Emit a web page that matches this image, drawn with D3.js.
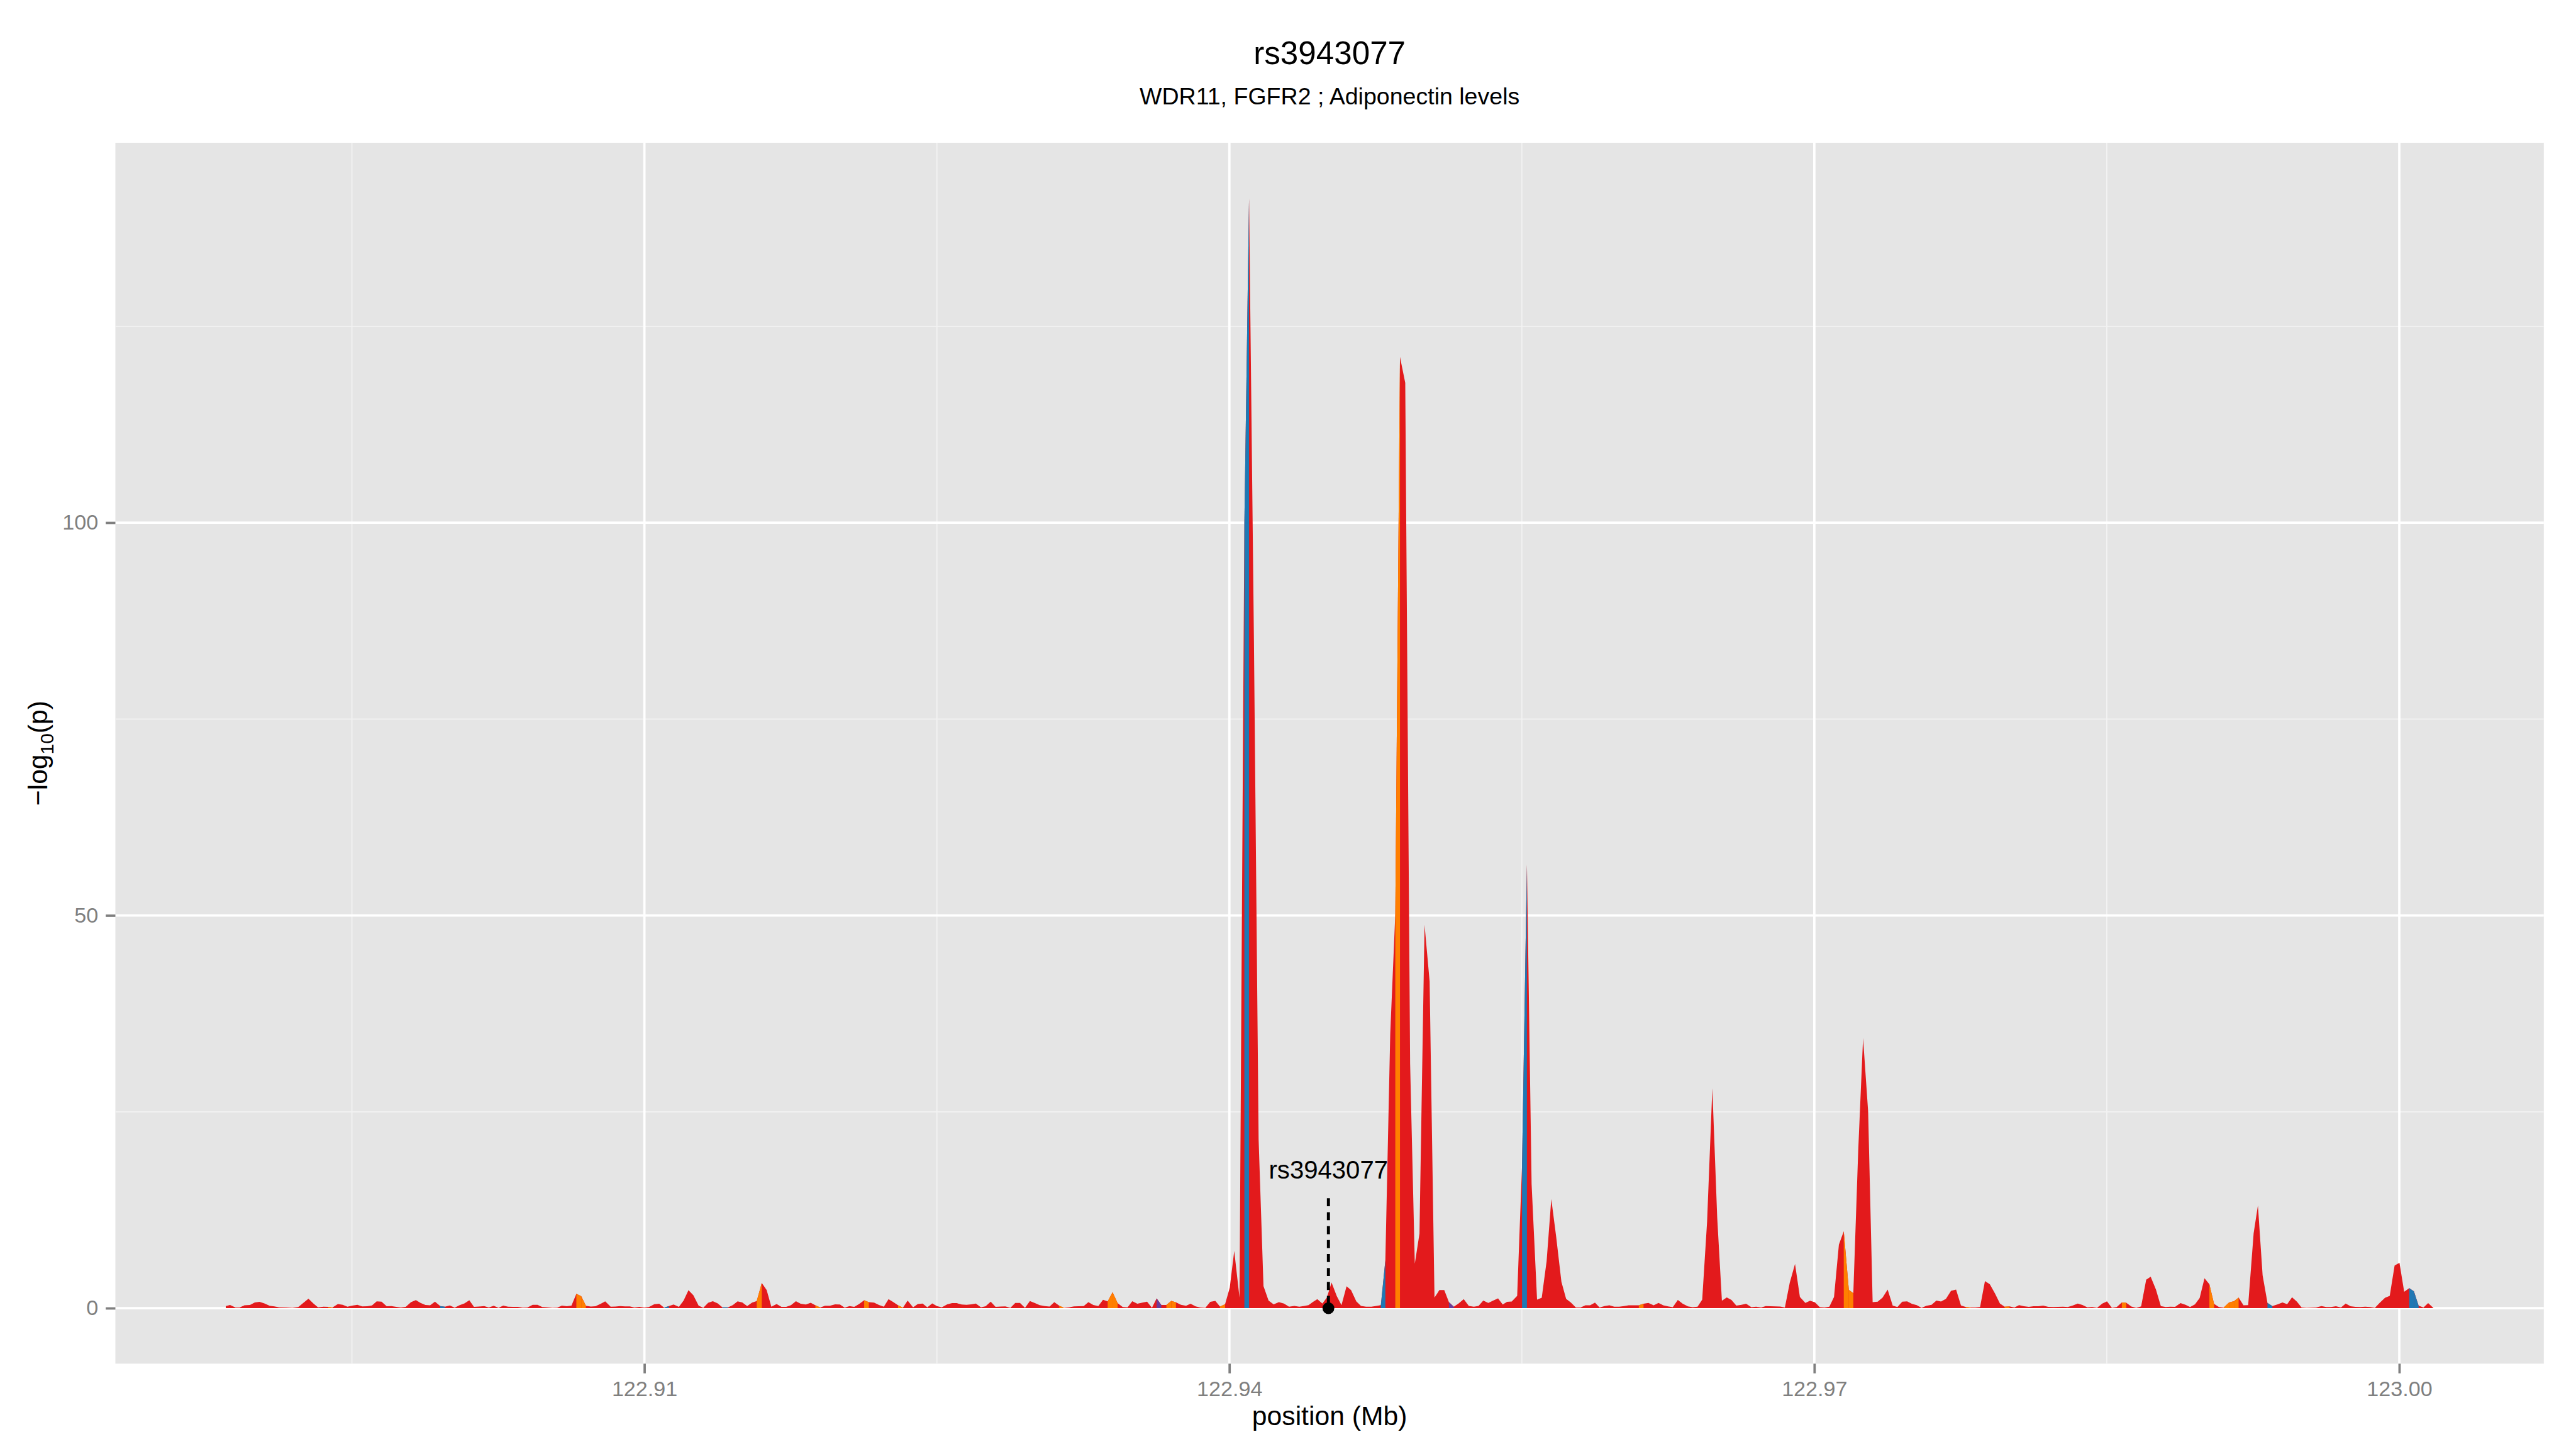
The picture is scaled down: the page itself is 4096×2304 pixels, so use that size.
<!DOCTYPE html>
<html>
<head>
<meta charset="utf-8">
<script src="https://cdn.jsdelivr.net/npm/d3@7/dist/d3.min.js"></script>
<style>
  body { margin: 0; background: #fff; }
  svg { display: block; font-family: "Liberation Sans", Arial, Helvetica, sans-serif; }
</style>
</head>
<body>
<div id="chart"></div>
<script>
// --- texts ---
const title = "rs3943077";
const subtitle = "WDR11, FGFR2 ; Adiponectin levels";
const xLabel = "position (Mb)";

// --- axis breaks ---
const xTicks = [122.91, 122.94, 122.97, 123.00];
const xMinor = [122.895, 122.925, 122.955, 122.985];
const yTicks = [0, 50, 100];
const yMinor = [25, 75, 125];

// --- lead snp annotation ---
const leadName = "rs3943077";
const leadPos = 122.94508;
const leadLabelAt = 16.5;   // -log10(p) of label baseline
const leadLineTo = 14;

// --- snp positions (Mb) ---
const position = [
  122.88853, 122.88875, 122.88903, 122.88924, 122.88949, 122.88977, 122.89002, 122.89026, 122.89051, 122.89078,
  122.89102, 122.89127, 122.89164, 122.89195, 122.89225, 122.89277, 122.89302, 122.89326, 122.89354, 122.89379,
  122.89400, 122.89428, 122.89453, 122.89477, 122.89502, 122.89528, 122.89553, 122.89578, 122.89603, 122.89627,
  122.89652, 122.89678, 122.89702, 122.89727, 122.89751, 122.89776, 122.89803, 122.89828, 122.89852, 122.89877,
  122.89901, 122.89926, 122.89953, 122.89977, 122.90002, 122.90027, 122.90051, 122.90077, 122.90102, 122.90126,
  122.90151, 122.90178, 122.90202, 122.90227, 122.90252, 122.90276, 122.90301, 122.90327, 122.90351, 122.90376,
  122.90400, 122.90427, 122.90452, 122.90476, 122.90501, 122.90528, 122.90553, 122.90577, 122.90602, 122.90626,
  122.90651, 122.90676, 122.90700, 122.90725, 122.90749, 122.90775, 122.90799, 122.90827, 122.90851, 122.90876,
  122.90900, 122.90925, 122.90949, 122.90974, 122.90999, 122.91023, 122.91051, 122.91076, 122.91101, 122.91125,
  122.91150, 122.91177, 122.91201, 122.91226, 122.91251, 122.91278, 122.91302, 122.91327, 122.91351, 122.91376,
  122.91400, 122.91429, 122.91453, 122.91478, 122.91502, 122.91527, 122.91552, 122.91576, 122.91602, 122.91627,
  122.91651, 122.91678, 122.91703, 122.91727, 122.91752, 122.91777, 122.91801, 122.91828, 122.91853, 122.91877,
  122.91902, 122.91926, 122.91951, 122.91978, 122.92003, 122.92027, 122.92052, 122.92076, 122.92101, 122.92127,
  122.92151, 122.92178, 122.92203, 122.92228, 122.92252, 122.92277, 122.92301, 122.92326, 122.92350, 122.92378,
  122.92402, 122.92427, 122.92451, 122.92476, 122.92500, 122.92525, 122.92553, 122.92578, 122.92602, 122.92627,
  122.92652, 122.92676, 122.92700, 122.92726, 122.92750, 122.92776, 122.92801, 122.92827, 122.92851, 122.92877,
  122.92902, 122.92926, 122.92952, 122.92977, 122.93003, 122.93027, 122.93053, 122.93078, 122.93102, 122.93128,
  122.93152, 122.93177, 122.93203, 122.93227, 122.93253, 122.93277, 122.93302, 122.93328, 122.93352, 122.93376,
  122.93401, 122.93427, 122.93453, 122.93478, 122.93502, 122.93528, 122.93554, 122.93578, 122.93603, 122.93627,
  122.93651, 122.93677, 122.93702, 122.93726, 122.93752, 122.93778, 122.93801, 122.93827, 122.93851, 122.93877,
  122.93902, 122.93928, 122.93952, 122.93978, 122.94002, 122.94025, 122.94052, 122.94077, 122.94101, 122.94126,
  122.94150, 122.94175, 122.94201, 122.94227, 122.94254, 122.94280, 122.94306, 122.94333, 122.94359, 122.94385,
  122.94406, 122.94427, 122.94451, 122.94477, 122.94500, 122.94524, 122.94551, 122.94575, 122.94601, 122.94624,
  122.94651, 122.94675, 122.94701, 122.94728, 122.94754, 122.94777, 122.94800, 122.94825, 122.94851, 122.94875,
  122.94902, 122.94927, 122.94951, 122.94975, 122.95001, 122.95027, 122.95052, 122.95077, 122.95102, 122.95126,
  122.95151, 122.95175, 122.95202, 122.95228, 122.95254, 122.95278, 122.95302, 122.95328, 122.95353, 122.95378,
  122.95402, 122.95424, 122.95448, 122.95476, 122.95501, 122.95526, 122.95550, 122.95578, 122.95602, 122.95627,
  122.95651, 122.95676, 122.95703, 122.95727, 122.95752, 122.95777, 122.95801, 122.95826, 122.95850, 122.95875,
  122.95899, 122.95924, 122.95949, 122.95974, 122.95999, 122.96024, 122.96048, 122.96075, 122.96100, 122.96124,
  122.96149, 122.96176, 122.96201, 122.96225, 122.96250, 122.96274, 122.96300, 122.96325, 122.96352, 122.96376,
  122.96401, 122.96425, 122.96450, 122.96477, 122.96502, 122.96526, 122.96551, 122.96575, 122.96600, 122.96626,
  122.96650, 122.96677, 122.96702, 122.96727, 122.96751, 122.96776, 122.96800, 122.96825, 122.96849, 122.96874,
  122.96901, 122.96926, 122.96954, 122.96978, 122.97003, 122.97028, 122.97052, 122.97077, 122.97101, 122.97126,
  122.97151, 122.97177, 122.97200, 122.97225, 122.97250, 122.97276, 122.97299, 122.97325, 122.97350, 122.97376,
  122.97402, 122.97426, 122.97451, 122.97476, 122.97501, 122.97525, 122.97550, 122.97575, 122.97601, 122.97626,
  122.97650, 122.97675, 122.97701, 122.97727, 122.97752, 122.97777, 122.97801, 122.97826, 122.97850, 122.97875,
  122.97900, 122.97927, 122.97952, 122.97976, 122.98001, 122.98026, 122.98050, 122.98075, 122.98100, 122.98124,
  122.98149, 122.98174, 122.98200, 122.98226, 122.98250, 122.98275, 122.98300, 122.98324, 122.98351, 122.98375,
  122.98400, 122.98425, 122.98450, 122.98477, 122.98501, 122.98526, 122.98551, 122.98577, 122.98600, 122.98626,
  122.98651, 122.98676, 122.98702, 122.98725, 122.98752, 122.98777, 122.98802, 122.98826, 122.98850, 122.98878,
  122.98904, 122.98927, 122.98952, 122.98976, 122.99001, 122.99026, 122.99050, 122.99075, 122.99099, 122.99127,
  122.99152, 122.99176, 122.99201, 122.99225, 122.99253, 122.99275, 122.99299, 122.99324, 122.99349, 122.99376,
  122.99401, 122.99425, 122.99450, 122.99475, 122.99499, 122.99524, 122.99549, 122.99573, 122.99601, 122.99625,
  122.99650, 122.99675, 122.99701, 122.99725, 122.99750, 122.99775, 122.99801, 122.99825, 122.99850, 122.99875,
  122.99899, 122.99927, 122.99951, 122.99976, 123.00001, 123.00025, 123.00051, 123.00075, 123.00099, 123.00124,
  123.00148, 123.00175
];

// --- -log10(p) ---
const logp = [
  0.27, 0.41, 0.09, 0.09, 0.36, 0.41, 0.73, 0.80, 0.61, 0.30,
  0.23, 0.11, 0.09, 0.05, 0.14, 1.20, 0.60, 0.10, 0.18, 0.16,
  0.09, 0.52, 0.43, 0.18, 0.32, 0.43, 0.23, 0.25, 0.34, 0.87,
  0.82, 0.25, 0.27, 0.16, 0.09, 0.16, 0.77, 1.02, 0.66, 0.41,
  0.36, 0.82, 0.27, 0.18, 0.34, 0.07, 0.36, 0.61, 1.00, 0.16,
  0.20, 0.27, 0.09, 0.30, 0.05, 0.32, 0.18, 0.16, 0.16, 0.07,
  0.09, 0.43, 0.43, 0.14, 0.11, 0.05, 0.07, 0.32, 0.25, 0.32,
  1.82, 1.53, 0.30, 0.20, 0.25, 0.55, 0.87, 0.18, 0.20, 0.27,
  0.23, 0.23, 0.09, 0.16, 0.07, 0.14, 0.50, 0.57, 0.07, 0.27,
  0.46, 0.16, 0.96, 2.28, 1.64, 0.32, 0.05, 0.68, 0.89, 0.61,
  0.11, 0.11, 0.39, 0.87, 0.73, 0.27, 0.71, 0.91, 3.21, 2.30,
  0.18, 0.52, 0.16, 0.16, 0.39, 0.89, 0.57, 0.46, 0.68, 0.36,
  0.09, 0.30, 0.30, 0.48, 0.46, 0.07, 0.27, 0.16, 0.52, 1.00,
  0.77, 0.71, 0.41, 0.18, 1.14, 0.77, 0.36, 0.07, 0.96, 0.11,
  0.52, 0.59, 0.11, 0.61, 0.27, 0.11, 0.48, 0.64, 0.64, 0.46,
  0.43, 0.48, 0.59, 0.11, 0.25, 0.82, 0.16, 0.20, 0.23, 0.05,
  0.66, 0.66, 0.05, 0.91, 0.64, 0.39, 0.27, 0.20, 0.77, 0.30,
  0.05, 0.11, 0.23, 0.25, 0.27, 0.77, 0.41, 0.27, 1.07, 0.87,
  2.03, 0.64, 0.14, 0.11, 0.89, 0.57, 0.71, 0.82, 0.05, 1.25,
  0.41, 0.41, 0.93, 0.75, 0.43, 0.30, 0.57, 0.23, 0.09, 0.05,
  0.80, 0.93, 0.20, 0.50, 2.60, 7.30, 1.34, 100.0, 141.3, 85.0,
  21.5, 2.80, 0.96, 0.48, 0.77, 0.58, 0.19, 0.29, 0.19, 0.29,
  0.38, 0.77, 1.15, 0.58, 1.34, 3.26, 1.53, 0.38, 2.78, 2.30,
  0.86, 0.29, 0.19, 0.19, 0.29, 0.38, 6.10, 34.9, 50.2, 121.1,
  117.8, 31.1, 5.65, 9.50, 48.8, 41.6, 1.34, 2.30, 2.30, 0.77,
  0.19, 0.58, 1.15, 0.29, 0.19, 0.29, 0.96, 0.67, 0.96, 1.25,
  0.47, 0.80, 0.85, 1.57, 18.2, 56.5, 15.8, 1.09, 1.33, 5.98,
  13.9, 9.10, 3.34, 1.18, 0.70, 0.08, 0.08, 0.37, 0.37, 0.70,
  0.08, 0.27, 0.37, 0.18, 0.18, 0.27, 0.37, 0.37, 0.37, 0.56,
  0.66, 0.37, 0.66, 0.37, 0.23, 0.13, 1.04, 0.56, 0.23, 0.13,
  0.18, 1.09, 11.0, 28.0, 11.5, 0.94, 1.37, 1.04, 0.32, 0.42,
  0.56, 0.13, 0.18, 0.08, 0.27, 0.25, 0.23, 0.20, 0.08, 3.24,
  5.64, 1.42, 0.66, 0.94, 0.75, 0.13, 0.08, 0.18, 1.42, 8.10,
  9.80, 2.32, 1.91, 20.0, 34.4, 25.0, 0.77, 0.82, 1.34, 2.37,
  0.32, 0.14, 0.82, 0.87, 0.55, 0.39, 0.05, 0.30, 0.43, 0.96,
  0.84, 1.18, 2.21, 2.37, 0.34, 0.14, 0.09, 0.09, 0.14, 3.44,
  3.05, 1.84, 0.59, 0.18, 0.23, 0.09, 0.39, 0.25, 0.16, 0.25,
  0.25, 0.32, 0.16, 0.14, 0.16, 0.18, 0.14, 0.32, 0.59, 0.41,
  0.11, 0.14, 0.05, 0.59, 0.87, 0.05, 0.14, 0.73, 0.68, 0.20,
  0.05, 0.23, 3.62, 4.00, 2.37, 0.27, 0.14, 0.18, 0.16, 0.64,
  0.43, 0.14, 0.48, 1.28, 3.80, 3.05, 0.55, 0.14, 0.07, 0.73,
  0.89, 1.34, 0.36, 0.39, 9.54, 13.07, 4.19, 0.66, 0.27, 0.48,
  0.73, 0.50, 1.39, 0.82, 0.09, 0.05, 0.07, 0.09, 0.27, 0.14,
  0.14, 0.25, 0.09, 0.59, 0.25, 0.16, 0.14, 0.18, 0.14, 0.05,
  0.66, 1.32, 1.57, 5.44, 5.78, 2.09, 2.55, 2.14, 0.32, 0.09,
  0.64, 0.02
];

// --- LD groups: snps not in these lists are in the low (red) group ---
const ldOrange = [122.89400, 122.90676, 122.90700, 122.91602, 122.91902, 122.92151, 122.92326,
  122.93152, 122.93401, 122.93427, 122.93702, 122.93726, 122.93978, 122.94875, 122.96124,
  122.97177, 122.97200, 122.97801, 122.98001, 122.98600, 122.99050, 122.99127, 122.99152, 122.99176];
const ldBlue = [122.89977, 122.91125, 122.91429, 122.94101, 122.94800, 122.95526, 122.99349,
  123.00075, 123.00099];
const ldPurple = [122.93651, 122.95151];

const ldColour = { low: "#E31A1C", orange: "#FF7F00", blue: "#1F78B4", purple: "#6A3D9A" };

// --- sizing (reference units, scaled by viewBox) ---
const W = 4800, H = 2700;
const panel = { left: 215, right: 4740, top: 266, bottom: 2541 };

if (position.length !== logp.length) console.error("length mismatch", position.length, logp.length);

function ldOf(p) {
  if (ldOrange.includes(p)) return "orange";
  if (ldBlue.includes(p)) return "blue";
  if (ldPurple.includes(p)) return "purple";
  return "low";
}

const snps = position.map((p, i) => ({ pos: p, logp: logp[i], ld: ldOf(p) }));

const svg = d3.select("#chart").append("svg")
  .attr("width", 4096)
  .attr("height", 2304)
  .attr("viewBox", `0 0 ${W} ${H}`);

svg.append("rect").attr("width", W).attr("height", H).attr("fill", "#fff");

// scales with ggplot style 5% expansion
const xExt = d3.extent(position);
const xPad = (xExt[1] - xExt[0]) * 0.05;
const x = d3.scaleLinear()
  .domain([xExt[0] - xPad, xExt[1] + xPad])
  .range([panel.left, panel.right]);

const yMax = d3.max(logp);
const yPad = yMax * 0.05;
const y = d3.scaleLinear()
  .domain([-yPad, yMax + yPad])
  .range([panel.bottom, panel.top]);

// panel background
svg.append("rect")
  .attr("x", panel.left).attr("y", panel.top)
  .attr("width", panel.right - panel.left)
  .attr("height", panel.bottom - panel.top)
  .attr("fill", "#E5E5E5");

// grid
const grid = svg.append("g").attr("class", "grid");
grid.selectAll(".xminor").data(xMinor).enter().append("line")
  .attr("x1", d => x(d)).attr("x2", d => x(d))
  .attr("y1", panel.top).attr("y2", panel.bottom)
  .attr("stroke", "#F2F2F2").attr("stroke-width", 2.2);
grid.selectAll(".yminor").data(yMinor).enter().append("line")
  .attr("y1", d => y(d)).attr("y2", d => y(d))
  .attr("x1", panel.left).attr("x2", panel.right)
  .attr("stroke", "#F2F2F2").attr("stroke-width", 2.2);
grid.selectAll(".xmajor").data(xTicks).enter().append("line")
  .attr("x1", d => x(d)).attr("x2", d => x(d))
  .attr("y1", panel.top).attr("y2", panel.bottom)
  .attr("stroke", "#fff").attr("stroke-width", 4.4);
grid.selectAll(".ymajor").data(yTicks).enter().append("line")
  .attr("y1", d => y(d)).attr("y2", d => y(d))
  .attr("x1", panel.left).attr("x2", panel.right)
  .attr("stroke", "#fff").attr("stroke-width", 4.4);

// area: whole track in the low colour, then the coloured segments on top
const area = d3.area()
  .x(d => x(d.pos))
  .y0(y(0))
  .y1(d => y(d.logp));

const plot = svg.append("g").attr("class", "plot");
plot.append("path")
  .datum(snps)
  .attr("d", area)
  .attr("fill", ldColour.low);

const segs = [];
for (let i = 1; i < snps.length; i++) {
  if (snps[i].ld !== "low") segs.push({ ld: snps[i].ld, pts: [snps[i - 1], snps[i]] });
}
plot.selectAll(".seg").data(segs).enter().append("path")
  .attr("class", "seg")
  .attr("d", d => area(d.pts))
  .attr("fill", d => ldColour[d.ld]);

// lead snp annotation
const ann = svg.append("g").attr("class", "lead");
ann.append("line")
  .attr("x1", x(leadPos)).attr("x2", x(leadPos))
  .attr("y1", y(leadLineTo)).attr("y2", y(0))
  .attr("stroke", "#000").attr("stroke-width", 5.7)
  .attr("stroke-dasharray", "15,11");
ann.append("circle")
  .attr("cx", x(leadPos)).attr("cy", y(0)).attr("r", 11)
  .attr("fill", "#000");
ann.append("text")
  .attr("x", x(leadPos)).attr("y", y(leadLabelAt))
  .attr("text-anchor", "middle")
  .attr("font-size", 47)
  .attr("fill", "#000")
  .text(leadName);

// axes
const xAxis = d3.axisBottom(x)
  .tickValues(xTicks)
  .tickFormat(d3.format(".2f"))
  .tickSize(18)
  .tickPadding(14);
const yAxis = d3.axisLeft(y)
  .tickValues(yTicks)
  .tickSize(18)
  .tickPadding(14);

const gx = svg.append("g")
  .attr("class", "axis axis--x")
  .attr("transform", `translate(0,${panel.bottom})`)
  .call(xAxis);
const gy = svg.append("g")
  .attr("class", "axis axis--y")
  .attr("transform", `translate(${panel.left},0)`)
  .call(yAxis);

[gx, gy].forEach(g => {
  g.select(".domain").remove();
  g.selectAll(".tick line").attr("stroke", "#7F7F7F").attr("stroke-width", 4.4);
  g.selectAll(".tick text")
    .attr("fill", "#7F7F7F")
    .attr("font-size", 40)
    .attr("font-family", "Liberation Sans, Arial, sans-serif");
});

// titles
const cx = (panel.left + panel.right) / 2;
svg.append("text")
  .attr("x", cx).attr("y", 120)
  .attr("text-anchor", "middle")
  .attr("font-size", 60)
  .text(title);
svg.append("text")
  .attr("x", cx).attr("y", 195)
  .attr("text-anchor", "middle")
  .attr("font-size", 44)
  .text(subtitle);

svg.append("text")
  .attr("x", cx).attr("y", 2655)
  .attr("text-anchor", "middle")
  .attr("font-size", 50)
  .text(xLabel);

const yl = svg.append("text")
  .attr("transform", `translate(88,${(panel.top + panel.bottom) / 2}) rotate(-90)`)
  .attr("text-anchor", "middle")
  .attr("font-size", 50);
yl.append("tspan").text("\u2212log");
yl.append("tspan").attr("font-size", 35).attr("dy", 12).text("10");
yl.append("tspan").attr("dy", -12).text("(p)");
</script>
</body>
</html>
